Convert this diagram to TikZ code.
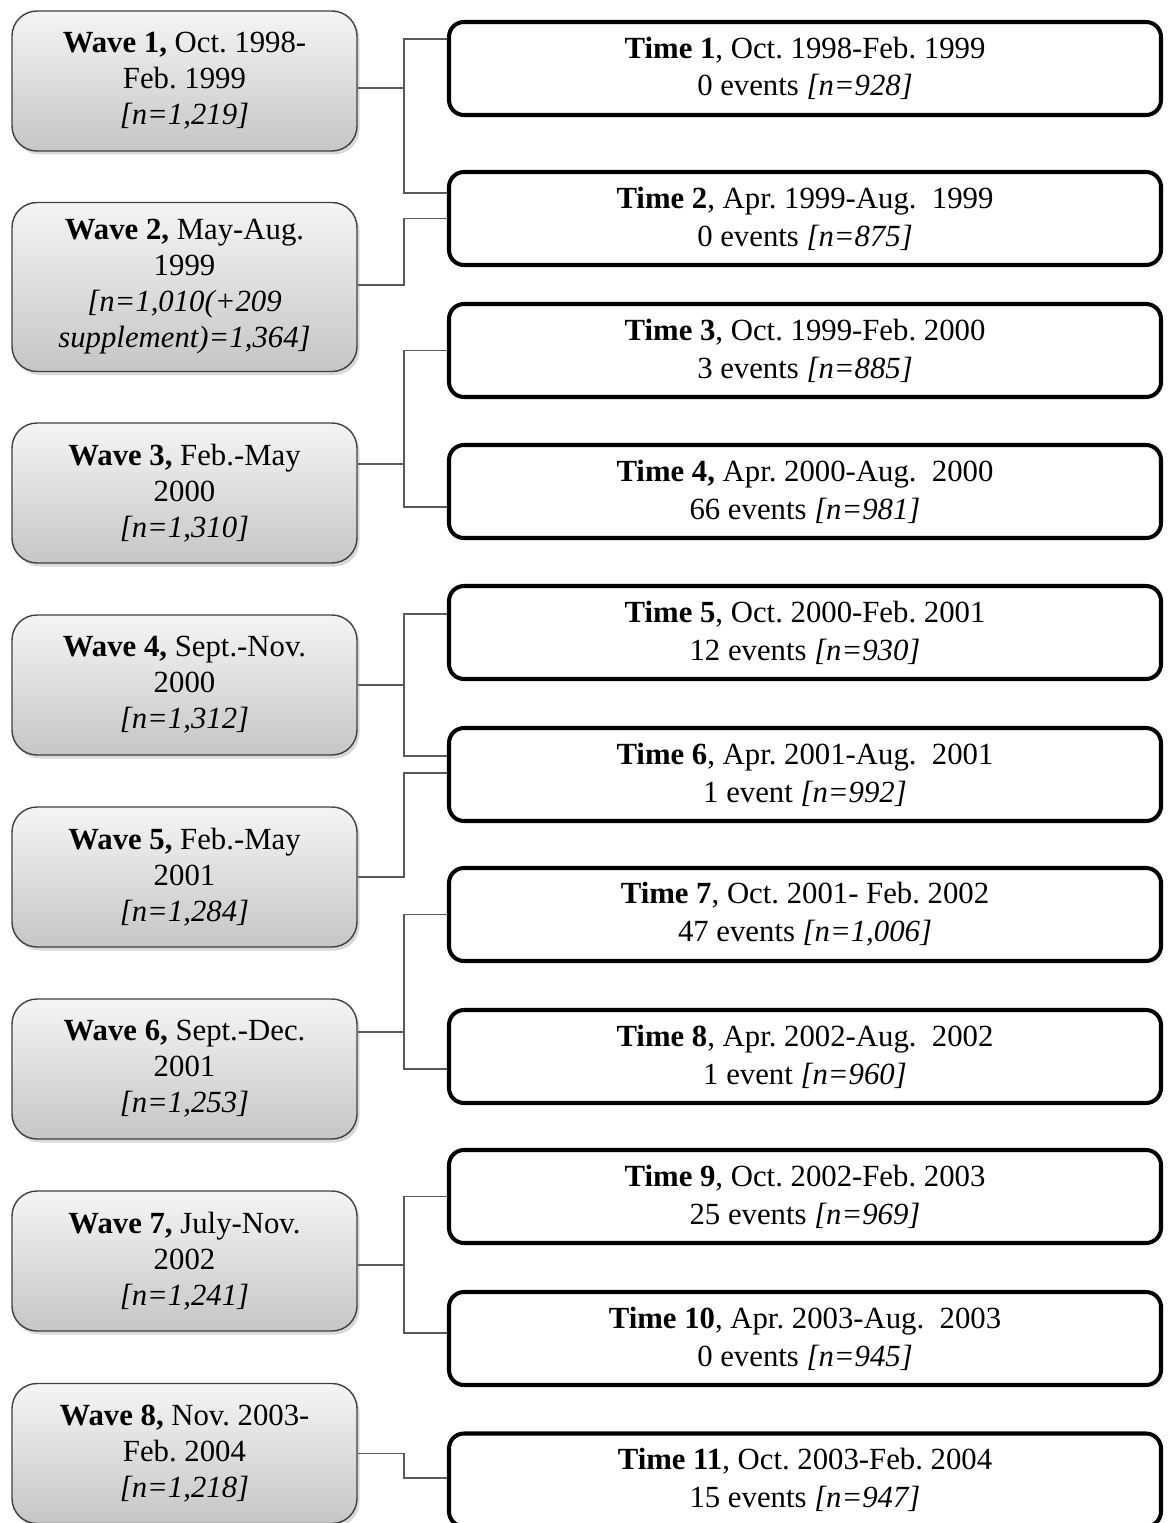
\documentclass[tikz,border=0pt]{standalone}
\usepackage{fontspec}
\setmainfont{Liberation Serif}
\usetikzlibrary{shadows}

\begin{document}
\frenchspacing
\begin{tikzpicture}[
    wavebox/.style={draw=black!75, line width=0.8pt, rounded corners=0.5cm,
        top color=gray!8, bottom color=gray!45,
        drop shadow={shadow xshift=0.05cm, shadow yshift=-0.07cm, opacity=0.3},
        minimum width=6.90cm, minimum height=2.80cm, inner sep=2pt,
        align=center, font=\fontsize{17.5}{20.5}\selectfont},
    timebox/.style={draw=black, line width=2.3pt, rounded corners=0.3cm, fill=white,
        minimum width=14.24cm, minimum height=1.86cm, inner sep=2pt,
        align=center, font=\fontsize{17.5}{21.5}\selectfont},
    link/.style={draw=black!65, line width=1pt}
]

    % =================================================================
    % 1. PAGE FRAME
    % =================================================================
    \useasboundingbox (0,0) rectangle (23.42,-30.46);

    % =================================================================
    % 2. SURVEY WAVES (LEFT COLUMN)
    % =================================================================
    \node[wavebox] (w1) at (3.69,-1.62)
        {\textbf{Wave 1,} Oct. 1998-\\Feb. 1999\\\textit{[n=1,219]}};
    \node[wavebox, minimum height=3.38cm] (w2) at (3.69,-5.74)
        {\textbf{Wave 2,} May-Aug.\\1999\\\textit{[n=1,010(+209}\\\textit{supplement)=1,364]}};
    \node[wavebox] (w3) at (3.69,-9.86)
        {\textbf{Wave 3,} Feb.-May\\2000\\\textit{[n=1,310]}};
    \node[wavebox] (w4) at (3.69,-13.70)
        {\textbf{Wave 4,} Sept.-Nov.\\2000\\\textit{[n=1,312]}};
    \node[wavebox] (w5) at (3.69,-17.54)
        {\textbf{Wave 5,} Feb.-May\\2001\\\textit{[n=1,284]}};
    \node[wavebox] (w6) at (3.69,-21.38)
        {\textbf{Wave 6,} Sept.-Dec.\\2001\\\textit{[n=1,253]}};
    \node[wavebox] (w7) at (3.69,-25.22)
        {\textbf{Wave 7,} July-Nov.\\2002\\\textit{[n=1,241]}};
    \node[wavebox] (w8) at (3.69,-29.07)
        {\textbf{Wave 8,} Nov. 2003-\\Feb. 2004\\\textit{[n=1,218]}};

    % =================================================================
    % 3. TIME POINTS (RIGHT COLUMN)
    % =================================================================
    \node[timebox] (t1) at (16.10,-1.37)
        {\textbf{Time 1}, Oct. 1998-Feb. 1999\\0 events \textit{[n=928]}};
    \node[timebox] (t2) at (16.10,-4.37)
        {\textbf{Time 2}, Apr. 1999-Aug.\ \ 1999\\0 events \textit{[n=875]}};
    \node[timebox] (t3) at (16.10,-7.01)
        {\textbf{Time 3}, Oct. 1999-Feb. 2000\\3 events \textit{[n=885]}};
    \node[timebox] (t4) at (16.10,-9.83)
        {\textbf{Time 4,} Apr. 2000-Aug.\ \ 2000\\66 events \textit{[n=981]}};
    \node[timebox] (t5) at (16.10,-12.65)
        {\textbf{Time 5}, Oct. 2000-Feb. 2001\\12 events \textit{[n=930]}};
    \node[timebox] (t6) at (16.10,-15.49)
        {\textbf{Time 6}, Apr. 2001-Aug.\ \ 2001\\1 event \textit{[n=992]}};
    \node[timebox] (t7) at (16.10,-18.29)
        {\textbf{Time 7}, Oct. 2001- Feb. 2002\\47 events \textit{[n=1,006]}};
    \node[timebox] (t8) at (16.10,-21.13)
        {\textbf{Time 8}, Apr. 2002-Aug.\ \ 2002\\1 event \textit{[n=960]}};
    \node[timebox] (t9) at (16.10,-23.93)
        {\textbf{Time 9}, Oct. 2002-Feb. 2003\\25 events \textit{[n=969]}};
    \node[timebox] (t10) at (16.10,-26.77)
        {\textbf{Time 10}, Apr. 2003-Aug.\ \ 2003\\0 events \textit{[n=945]}};
    \node[timebox] (t11) at (16.10,-29.60)
        {\textbf{Time 11}, Oct. 2003-Feb. 2004\\15 events \textit{[n=947]}};

    % =================================================================
    % 4. CONNECTORS WAVE -> TIME
    % =================================================================
    % Wave 1 feeds Time 1 and Time 2
    \draw[link] ([yshift=-0.14cm]w1.east) -- ++(0.92,0) coordinate (b1)
        |- ([yshift=0.59cm]t1.west);
    \draw[link] (b1) |- ([yshift=0.51cm]t2.west);
    % Wave 2 feeds Time 2
    \draw[link] ([yshift=0.04cm]w2.east) -- ++(0.92,0) |- (t2.west);
    % Wave 3 feeds Time 3 and Time 4
    \draw[link] ([yshift=0.58cm]w3.east) -- ++(0.92,0) coordinate (b3)
        |- (t3.west);
    \draw[link] (b3) |- ([yshift=-0.31cm]t4.west);
    % Wave 4 feeds Time 5 and Time 6
    \draw[link] (w4.east) -- ++(0.92,0) coordinate (b4)
        |- ([yshift=0.37cm]t5.west);
    \draw[link] (b4) |- ([yshift=0.37cm]t6.west);
    % Wave 5 feeds Time 6
    \draw[link] (w5.east) -- ++(0.92,0) |- ([yshift=0.03cm]t6.west);
    % Wave 6 feeds Time 7 and Time 8
    \draw[link] ([yshift=0.74cm]w6.east) -- ++(0.92,0) coordinate (b6)
        |- (t7.west);
    \draw[link] (b6) |- ([yshift=-0.25cm]t8.west);
    % Wave 7 feeds Time 9 and Time 10
    \draw[link] ([yshift=-0.08cm]w7.east) -- ++(0.92,0) coordinate (b7)
        |- (t9.west);
    \draw[link] (b7) |- ([yshift=0.11cm]t10.west);
    % Wave 8 feeds Time 11
    \draw[link] (w8.east) -- ++(0.92,0) |- ([yshift=0.04cm]t11.west);

\end{tikzpicture}
\end{document}
